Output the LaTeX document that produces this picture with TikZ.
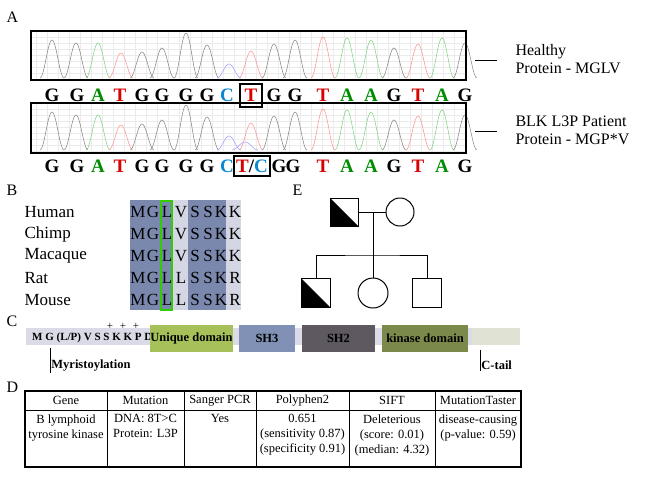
\documentclass[tikz,border=0pt]{standalone}
\usepackage{fontspec}
\setmainfont{Liberation Serif}
\definecolor{alD}{RGB}{122,136,173}
\definecolor{alL}{RGB}{212,214,228}
\definecolor{udc}{RGB}{166,193,90}
\definecolor{sh3c}{RGB}{128,145,181}
\definecolor{sh2c}{RGB}{94,89,96}
\definecolor{kdc}{RGB}{123,138,74}
\definecolor{barc}{RGB}{218,219,230}
\definecolor{ctc}{RGB}{224,226,212}
\begin{document}
\begin{tikzpicture}[x=1pt,y=-1pt,
  lab/.style={font=\fontsize{16}{16}\selectfont},
  base/.style={font=\fontsize{19}{19}\selectfont\bfseries},
  aa/.style={font=\fontsize{17}{17}\selectfont},
  dom/.style={font=\fontsize{12.5}{12.5}\selectfont\bfseries},
  tb/.style={font=\fontsize{12.5}{15}\selectfont,align=center},
  gA/.style={color=green!55!black}, gT/.style={color=red!85!black}, gC/.style={color=cyan!70!blue}, gG/.style={color=black}]
\useasboundingbox (0,0) rectangle (650,498);
% ---------- A
\node[lab,anchor=west] (la) at (3,17) {A};
\foreach \yt in {31,103}{
  \foreach \gx in {36,47,...,466} \draw[black!8,line width=0.3pt] (\gx,\yt) -- (\gx,\yt+50);
  \foreach \gy in {6,12,...,48} \draw[black!8,line width=0.3pt] (31,\yt+\gy) -- (466,\yt+\gy);
}
\foreach \px/\pt/\pc in {52/40/gray,76/43/gray,98/43/green!50!gray!70,121/53/red!45,142/52/gray,162/48/gray,186/33/gray,207/45/gray,229/64/blue!40,251/51/red!45,274/44/gray,295/40/gray,323/37/red!45,347/38/green!50!gray!70,371/40/green!50!gray!70,394/48/gray,418/44/red!45,442/38/green!50!gray!70,465/43/gray}{
  \draw[\pc,line width=0.5pt] plot[variable=\u,domain={\px-12}:{\px+12},samples=25,smooth] (\u,{78-(78-\pt)*(1+cos(180*(\u-\px)/12))/2});
  \draw[\pc,line width=0.5pt] plot[variable=\u,domain={\px-12}:{\px+12},samples=25,smooth] (\u,{150-(150-(\pt+72))*(1+cos(180*(\u-\px)/12))/2});
}
\draw[blue!40,line width=0.5pt] plot[variable=\u,domain=232:258,samples=25,smooth] (\u,{150-(150-142)*(1+cos(180*(\u-245)/13))/2});
\draw[line width=1.8pt] (31,31) rectangle (466,80);
\draw[line width=1.8pt] (31,103) rectangle (466,153);
\foreach \bx/\bl/\bs [count=\i] in {52/G/gG,77/G/gG,98/A/gA,120/T/gT,142/G/gG,162/G/gG,186/G/gG,207/G/gG,227/C/gC,251/T/gT,274/G/gG,295/G/gG,323/T/gT,347/A/gA,371/A/gA,394/G/gG,418/T/gT,442/A/gA,465/G/gG}{
  \node[base,\bs] (s\i) at (\bx,95) {\bl};
}
\foreach \bx/\bl/\bs [count=\i] in {52/G/gG,77/G/gG,98/A/gA,120/T/gT,142/G/gG,162/G/gG,186/G/gG,207/G/gG,227/C/gC,279/G/gG,293/G/gG,323/T/gT,347/A/gA,371/A/gA,394/G/gG,418/T/gT,442/A/gA,465/G/gG}{
  \node[base,\bs] (p\i) at (\bx,166) {\bl};
}
\node[base] (tc) at (252,166) {\textcolor{red!85!black}{T}/\textcolor{cyan!70!blue}{C}};
\draw[line width=1.2pt] (240,84) rectangle (262,107);
\draw[line width=1.2pt] (234,156) rectangle (270,176);
\draw[line width=1pt] (475,60) -- (497,60);
\draw[line width=1pt] (475,131) -- (497,131);
\node[lab,anchor=west,align=left] (h1) at (512,59) {Healthy\\[2pt]Protein - MGLV};
\node[lab,anchor=west,align=left] (h2) at (512,130) {BLK L3P Patient\\[2pt]Protein - MGP*V};
% ---------- B
\node[lab,anchor=west] (lb) at (3,190) {B};
\fill[alD] (130,200) rectangle (172,310);
\fill[alL] (172,200) rectangle (188,310);
\fill[alD] (188,200) rectangle (226,310);
\fill[alL] (226,200) rectangle (241,310);
\draw[green!60!olive,line width=1.2pt] (161,201) rectangle (172,310);
\foreach \nm [count=\r] in {Human,Chimp,Macaque,Rat,Mouse}{
  \node[aa,anchor=west] (n\r) at (21,190+22*\r) {\nm};
}
\foreach \r/\v/\w in {1/V/K,2/V/K,3/V/K,4/L/R,5/L/R}{
  \foreach \cx/\ch in {138/M,153/G,167/L,181/\v,195/S,208/S,221/K,235/\w}
    \node[aa] at (\cx,190+22*\r) {\ch};
}
% ---------- E
\node[lab,anchor=west] (le) at (289,190) {E};
\node[draw,line width=1pt,minimum size=28pt,inner sep=0] (fa) at (344,212) {};
\fill (330,198) -- (330,226) -- (358,226) -- cycle;
\node[draw,line width=1pt,circle,minimum size=28pt,inner sep=0] (mo) at (400,212) {};
\draw[line width=1pt] (fa.east) -- (mo.west);
\coordinate (m) at (373,212); \coordinate (sb) at (373,255);
\draw[line width=1pt] (m) -- (sb);
\node[draw,line width=1pt,minimum size=29pt,inner sep=0] (c1) at (316,293) {};
\fill (301.5,278.5) -- (301.5,307.5) -- (330.5,307.5) -- cycle;
\node[draw,line width=1pt,circle,minimum size=30pt,inner sep=0] (c2) at (373,293) {};
\node[draw,line width=1pt,minimum size=29pt,inner sep=0] (c3) at (427,293) {};
\draw[line width=1pt] (c1.north) |- (sb) -| (c3.north);
\draw[line width=1pt] (sb) -- (c2.north);
% ---------- C
\node[lab,anchor=west] (lc) at (3,321) {C};
\fill[barc] (26,328) rectangle (520,345);
\fill[ctc] (472,328) rectangle (520,345);
\node[font=\fontsize{11}{11}\selectfont\bfseries,anchor=west,inner sep=0] (seq) at (32,338) {M G (L/P) V S S K K P D};
\foreach \qx in {110,123,136} \node[font=\fontsize{11}{11}\selectfont] at (\qx,326) {+};
\node[dom,fill=udc,minimum width=79pt,minimum height=27pt,inner sep=0] (ud) at (191.5,338.5) {Unique domain};
\node[dom,fill=sh3c,minimum width=56pt,minimum height=27pt,inner sep=0] (sh3) at (267,338.5) {SH3};
\node[dom,fill=sh2c,minimum width=73pt,minimum height=27pt,inner sep=0] (sh2) at (338.5,338.5) {SH2};
\node[dom,fill=kdc,minimum width=86pt,minimum height=27pt,inner sep=0] (kd) at (425,338.5) {kinase domain};
\coordinate (my) at (50,348); \coordinate (ct) at (480,350);
\draw[line width=0.8pt] (my) -- ++(0,25) node[dom,anchor=south west,inner sep=1pt] {Myristoylation};
\draw[line width=0.8pt] (ct) -- ++(0,21) node[dom,anchor=south west,inner sep=1pt] {C-tail};
% ---------- D
\node[lab,anchor=west] (ld) at (3,387) {D};
\draw[line width=1.5pt] (25,391) rectangle (521,467);
\draw[line width=0.8pt] (25,410) -- (521,410);
\foreach \cx in {107,184,256,349,435} \draw[line width=0.8pt] (\cx,391) -- (\cx,467);
\foreach \tx/\tt in {66/Gene,145.5/Mutation,220/Sanger PCR,302.5/Polyphen2,392/SIFT,478/MutationTaster}
  \node[tb] at (\tx,400.5) {\tt};
\node[tb,anchor=north] (d1) at (66,411) {B lymphoid\\tyrosine kinase};
\node[tb,anchor=north] (d2) at (145.5,411) {DNA: 8T>C\\Protein: L3P};
\node[tb,anchor=north] (d3) at (220,411) {Yes};
\node[tb,anchor=north] (d4) at (302.5,411) {0.651\\(sensitivity 0.87)\\(specificity 0.91)};
\node[tb,anchor=north] (d5) at (392,411) {Deleterious\\(score: 0.01)\\(median: 4.32)};
\node[tb,anchor=north] (d6) at (478,411) {disease-causing\\(p-value: 0.59)};
\end{tikzpicture}
\end{document}
